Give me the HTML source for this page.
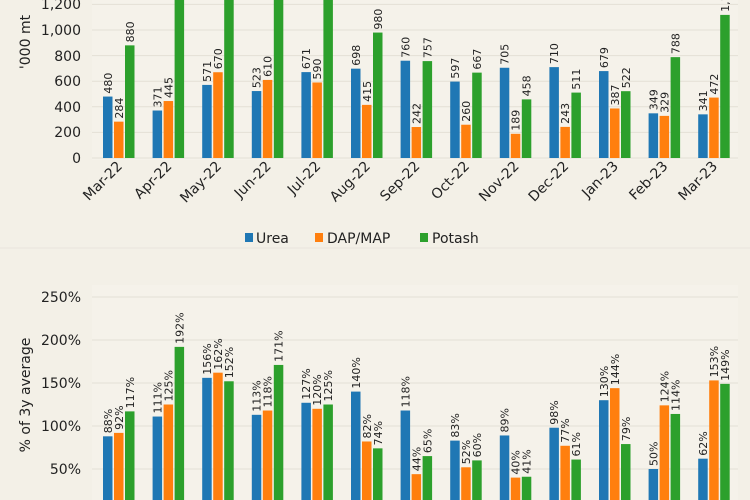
<!DOCTYPE html>
<html><head><meta charset="utf-8"><style>
html,body{margin:0;padding:0;background:#f3f0e7;}
svg{display:block;font-family:"DejaVu Sans","Liberation Sans",sans-serif;}
.v{font-size:11px;fill:#222;}
.t{font-size:14px;fill:#222;}
.b{fill:#1f77b4}.o{fill:#ff7f0e}.g{fill:#2ca02c}
</style></head><body>
<svg width="750" height="500" viewBox="0 0 750 500" xmlns="http://www.w3.org/2000/svg">
<rect width="750" height="500" fill="#f3f0e7"/>
<rect x="92" y="0" width="646" height="160" fill="#f5f2ea"/>
<rect x="92" y="285" width="646" height="215" fill="#f5f2ea"/>
<g stroke="#e4e0d5" stroke-width="1">
<line x1="92" x2="738" y1="158" y2="158"/><line x1="92" x2="738" y1="132.4" y2="132.4"/><line x1="92" x2="738" y1="106.8" y2="106.8"/><line x1="92" x2="738" y1="81.2" y2="81.2"/><line x1="92" x2="738" y1="55.6" y2="55.6"/><line x1="92" x2="738" y1="30" y2="30"/><line x1="92" x2="738" y1="4.4" y2="4.4"/>
<line x1="92" x2="738" y1="297" y2="297"/><line x1="92" x2="738" y1="340" y2="340"/><line x1="92" x2="738" y1="383" y2="383"/><line x1="92" x2="738" y1="426" y2="426"/><line x1="92" x2="738" y1="469" y2="469"/>
</g>
<g class="t" text-anchor="end">
<text x="81" y="163">0</text><text x="81" y="137">200</text><text x="81" y="112">400</text><text x="81" y="86">600</text><text x="81" y="61">800</text><text x="81" y="35">1,000</text><text x="81" y="9">1,200</text>
<text x="81" y="302">250%</text><text x="81" y="345">200%</text><text x="81" y="388">150%</text><text x="81" y="431">100%</text><text x="81" y="474">50%</text>
</g>
<text class="t" transform="translate(30,42) rotate(-90)" text-anchor="middle">'000 mt</text>
<text class="t" transform="translate(30,395) rotate(-90)" text-anchor="middle">% of 3y average</text>

<g transform="translate(103,158) scale(1,-0.128)"><rect class="b" x="0" width="9.5" height="480"/><rect class="o" x="11" width="9.5" height="284"/><rect class="g" x="22" width="9.5" height="880"/></g>
<g transform="translate(152.6,158) scale(1,-0.128)"><rect class="b" x="0" width="9.5" height="371"/><rect class="o" x="11" width="9.5" height="445"/><rect class="g" x="22" width="9.5" height="1300"/></g>
<g transform="translate(202.2,158) scale(1,-0.128)"><rect class="b" x="0" width="9.5" height="571"/><rect class="o" x="11" width="9.5" height="670"/><rect class="g" x="22" width="9.5" height="1300"/></g>
<g transform="translate(251.8,158) scale(1,-0.128)"><rect class="b" x="0" width="9.5" height="523"/><rect class="o" x="11" width="9.5" height="610"/><rect class="g" x="22" width="9.5" height="1300"/></g>
<g transform="translate(301.4,158) scale(1,-0.128)"><rect class="b" x="0" width="9.5" height="671"/><rect class="o" x="11" width="9.5" height="590"/><rect class="g" x="22" width="9.5" height="1300"/></g>
<g transform="translate(351,158) scale(1,-0.128)"><rect class="b" x="0" width="9.5" height="698"/><rect class="o" x="11" width="9.5" height="415"/><rect class="g" x="22" width="9.5" height="980"/></g>
<g transform="translate(400.6,158) scale(1,-0.128)"><rect class="b" x="0" width="9.5" height="760"/><rect class="o" x="11" width="9.5" height="242"/><rect class="g" x="22" width="9.5" height="757"/></g>
<g transform="translate(450.2,158) scale(1,-0.128)"><rect class="b" x="0" width="9.5" height="597"/><rect class="o" x="11" width="9.5" height="260"/><rect class="g" x="22" width="9.5" height="667"/></g>
<g transform="translate(499.8,158) scale(1,-0.128)"><rect class="b" x="0" width="9.5" height="705"/><rect class="o" x="11" width="9.5" height="189"/><rect class="g" x="22" width="9.5" height="458"/></g>
<g transform="translate(549.4,158) scale(1,-0.128)"><rect class="b" x="0" width="9.5" height="710"/><rect class="o" x="11" width="9.5" height="243"/><rect class="g" x="22" width="9.5" height="511"/></g>
<g transform="translate(599,158) scale(1,-0.128)"><rect class="b" x="0" width="9.5" height="679"/><rect class="o" x="11" width="9.5" height="387"/><rect class="g" x="22" width="9.5" height="522"/></g>
<g transform="translate(648.6,158) scale(1,-0.128)"><rect class="b" x="0" width="9.5" height="349"/><rect class="o" x="11" width="9.5" height="329"/><rect class="g" x="22" width="9.5" height="788"/></g>
<g transform="translate(698.2,158) scale(1,-0.128)"><rect class="b" x="0" width="9.5" height="341"/><rect class="o" x="11" width="9.5" height="472"/><rect class="g" x="22" width="9.5" height="1118"/></g>

<g class="v">
<g transform="translate(103,0)"><text transform="translate(8.8,93.6) rotate(-90)">480</text><text transform="translate(19.8,118.6) rotate(-90)">284</text><text transform="translate(30.8,42.4) rotate(-90)">880</text></g>
<g transform="translate(152.6,0)"><text transform="translate(8.8,107.5) rotate(-90)">371</text><text transform="translate(19.8,98) rotate(-90)">445</text></g>
<g transform="translate(202.2,0)"><text transform="translate(8.8,81.9) rotate(-90)">571</text><text transform="translate(19.8,69.2) rotate(-90)">670</text></g>
<g transform="translate(251.8,0)"><text transform="translate(8.8,88.1) rotate(-90)">523</text><text transform="translate(19.8,76.9) rotate(-90)">610</text></g>
<g transform="translate(301.4,0)"><text transform="translate(8.8,69.1) rotate(-90)">671</text><text transform="translate(19.8,79.5) rotate(-90)">590</text></g>
<g transform="translate(351,0)"><text transform="translate(8.8,65.7) rotate(-90)">698</text><text transform="translate(19.8,101.9) rotate(-90)">415</text><text transform="translate(30.8,29.6) rotate(-90)">980</text></g>
<g transform="translate(400.6,0)"><text transform="translate(8.8,57.7) rotate(-90)">760</text><text transform="translate(19.8,124) rotate(-90)">242</text><text transform="translate(30.8,58.1) rotate(-90)">757</text></g>
<g transform="translate(450.2,0)"><text transform="translate(8.8,78.6) rotate(-90)">597</text><text transform="translate(19.8,121.7) rotate(-90)">260</text><text transform="translate(30.8,69.6) rotate(-90)">667</text></g>
<g transform="translate(499.8,0)"><text transform="translate(8.8,64.8) rotate(-90)">705</text><text transform="translate(19.8,130.8) rotate(-90)">189</text><text transform="translate(30.8,96.4) rotate(-90)">458</text></g>
<g transform="translate(549.4,0)"><text transform="translate(8.8,64.1) rotate(-90)">710</text><text transform="translate(19.8,123.9) rotate(-90)">243</text><text transform="translate(30.8,89.6) rotate(-90)">511</text></g>
<g transform="translate(599,0)"><text transform="translate(8.8,68.1) rotate(-90)">679</text><text transform="translate(19.8,105.5) rotate(-90)">387</text><text transform="translate(30.8,88.2) rotate(-90)">522</text></g>
<g transform="translate(648.6,0)"><text transform="translate(8.8,110.3) rotate(-90)">349</text><text transform="translate(19.8,112.9) rotate(-90)">329</text><text transform="translate(30.8,54.1) rotate(-90)">788</text></g>
<g transform="translate(698.2,0)"><text transform="translate(8.8,111.4) rotate(-90)">341</text><text transform="translate(19.8,94.6) rotate(-90)">472</text><text transform="translate(30.8,11.9) rotate(-90)">1,118</text></g>
</g>

<g class="t" text-anchor="end">
<text transform="translate(123,167) rotate(-45)">Mar-22</text>
<text transform="translate(172.6,167) rotate(-45)">Apr-22</text>
<text transform="translate(222.2,167) rotate(-45)">May-22</text>
<text transform="translate(271.8,167) rotate(-45)">Jun-22</text>
<text transform="translate(321.4,167) rotate(-45)">Jul-22</text>
<text transform="translate(371,167) rotate(-45)">Aug-22</text>
<text transform="translate(420.6,167) rotate(-45)">Sep-22</text>
<text transform="translate(470.2,167) rotate(-45)">Oct-22</text>
<text transform="translate(519.8,167) rotate(-45)">Nov-22</text>
<text transform="translate(569.4,167) rotate(-45)">Dec-22</text>
<text transform="translate(619,167) rotate(-45)">Jan-23</text>
<text transform="translate(668.6,167) rotate(-45)">Feb-23</text>
<text transform="translate(718.2,167) rotate(-45)">Mar-23</text>
</g>

<rect class="b" x="245" y="233" width="8" height="9"/><text class="t" x="256" y="243">Urea</text>
<rect class="o" x="315" y="233" width="8" height="9"/><text class="t" x="327" y="243">DAP/MAP</text>
<rect class="g" x="420" y="233" width="8" height="9"/><text class="t" x="432" y="243">Potash</text>
<line x1="0" x2="750" y1="248" y2="248" stroke="#e8e5dc"/>

<g transform="translate(103,512) scale(1,-0.86)"><rect class="b" x="0" width="9.5" height="88"/><rect class="o" x="11" width="9.5" height="92"/><rect class="g" x="22" width="9.5" height="117"/></g>
<g transform="translate(152.6,512) scale(1,-0.86)"><rect class="b" x="0" width="9.5" height="111"/><rect class="o" x="11" width="9.5" height="125"/><rect class="g" x="22" width="9.5" height="192"/></g>
<g transform="translate(202.2,512) scale(1,-0.86)"><rect class="b" x="0" width="9.5" height="156"/><rect class="o" x="11" width="9.5" height="162"/><rect class="g" x="22" width="9.5" height="152"/></g>
<g transform="translate(251.8,512) scale(1,-0.86)"><rect class="b" x="0" width="9.5" height="113"/><rect class="o" x="11" width="9.5" height="118"/><rect class="g" x="22" width="9.5" height="171"/></g>
<g transform="translate(301.4,512) scale(1,-0.86)"><rect class="b" x="0" width="9.5" height="127"/><rect class="o" x="11" width="9.5" height="120"/><rect class="g" x="22" width="9.5" height="125"/></g>
<g transform="translate(351,512) scale(1,-0.86)"><rect class="b" x="0" width="9.5" height="140"/><rect class="o" x="11" width="9.5" height="82"/><rect class="g" x="22" width="9.5" height="74"/></g>
<g transform="translate(400.6,512) scale(1,-0.86)"><rect class="b" x="0" width="9.5" height="118"/><rect class="o" x="11" width="9.5" height="44"/><rect class="g" x="22" width="9.5" height="65"/></g>
<g transform="translate(450.2,512) scale(1,-0.86)"><rect class="b" x="0" width="9.5" height="83"/><rect class="o" x="11" width="9.5" height="52"/><rect class="g" x="22" width="9.5" height="60"/></g>
<g transform="translate(499.8,512) scale(1,-0.86)"><rect class="b" x="0" width="9.5" height="89"/><rect class="o" x="11" width="9.5" height="40"/><rect class="g" x="22" width="9.5" height="41"/></g>
<g transform="translate(549.4,512) scale(1,-0.86)"><rect class="b" x="0" width="9.5" height="98"/><rect class="o" x="11" width="9.5" height="77"/><rect class="g" x="22" width="9.5" height="61"/></g>
<g transform="translate(599,512) scale(1,-0.86)"><rect class="b" x="0" width="9.5" height="130"/><rect class="o" x="11" width="9.5" height="144"/><rect class="g" x="22" width="9.5" height="79"/></g>
<g transform="translate(648.6,512) scale(1,-0.86)"><rect class="b" x="0" width="9.5" height="50"/><rect class="o" x="11" width="9.5" height="124"/><rect class="g" x="22" width="9.5" height="114"/></g>
<g transform="translate(698.2,512) scale(1,-0.86)"><rect class="b" x="0" width="9.5" height="62"/><rect class="o" x="11" width="9.5" height="153"/><rect class="g" x="22" width="9.5" height="149"/></g>

<g class="v">
<g transform="translate(103,0)"><text transform="translate(8.8,433.3) rotate(-90)">88%</text><text transform="translate(19.8,429.9) rotate(-90)">92%</text><text transform="translate(30.8,408.4) rotate(-90)">117%</text></g>
<g transform="translate(152.6,0)"><text transform="translate(8.8,413.5) rotate(-90)">111%</text><text transform="translate(19.8,401.5) rotate(-90)">125%</text><text transform="translate(30.8,343.9) rotate(-90)">192%</text></g>
<g transform="translate(202.2,0)"><text transform="translate(8.8,374.8) rotate(-90)">156%</text><text transform="translate(19.8,369.7) rotate(-90)">162%</text><text transform="translate(30.8,378.3) rotate(-90)">152%</text></g>
<g transform="translate(251.8,0)"><text transform="translate(8.8,411.8) rotate(-90)">113%</text><text transform="translate(19.8,407.5) rotate(-90)">118%</text><text transform="translate(30.8,361.9) rotate(-90)">171%</text></g>
<g transform="translate(301.4,0)"><text transform="translate(8.8,399.8) rotate(-90)">127%</text><text transform="translate(19.8,405.8) rotate(-90)">120%</text><text transform="translate(30.8,401.5) rotate(-90)">125%</text></g>
<g transform="translate(351,0)"><text transform="translate(8.8,388.6) rotate(-90)">140%</text><text transform="translate(19.8,438.5) rotate(-90)">82%</text><text transform="translate(30.8,445.4) rotate(-90)">74%</text></g>
<g transform="translate(400.6,0)"><text transform="translate(8.8,407.5) rotate(-90)">118%</text><text transform="translate(19.8,471.2) rotate(-90)">44%</text><text transform="translate(30.8,453.1) rotate(-90)">65%</text></g>
<g transform="translate(450.2,0)"><text transform="translate(8.8,437.6) rotate(-90)">83%</text><text transform="translate(19.8,464.3) rotate(-90)">52%</text><text transform="translate(30.8,457.4) rotate(-90)">60%</text></g>
<g transform="translate(499.8,0)"><text transform="translate(8.8,432.5) rotate(-90)">89%</text><text transform="translate(19.8,474.6) rotate(-90)">40%</text><text transform="translate(30.8,473.7) rotate(-90)">41%</text></g>
<g transform="translate(549.4,0)"><text transform="translate(8.8,424.7) rotate(-90)">98%</text><text transform="translate(19.8,442.8) rotate(-90)">77%</text><text transform="translate(30.8,456.5) rotate(-90)">61%</text></g>
<g transform="translate(599,0)"><text transform="translate(8.8,397.2) rotate(-90)">130%</text><text transform="translate(19.8,385.2) rotate(-90)">144%</text><text transform="translate(30.8,441.1) rotate(-90)">79%</text></g>
<g transform="translate(648.6,0)"><text transform="translate(8.8,466) rotate(-90)">50%</text><text transform="translate(19.8,402.4) rotate(-90)">124%</text><text transform="translate(30.8,411) rotate(-90)">114%</text></g>
<g transform="translate(698.2,0)"><text transform="translate(8.8,455.7) rotate(-90)">62%</text><text transform="translate(19.8,377.4) rotate(-90)">153%</text><text transform="translate(30.8,380.9) rotate(-90)">149%</text></g>
</g>
</svg>
</body></html>
